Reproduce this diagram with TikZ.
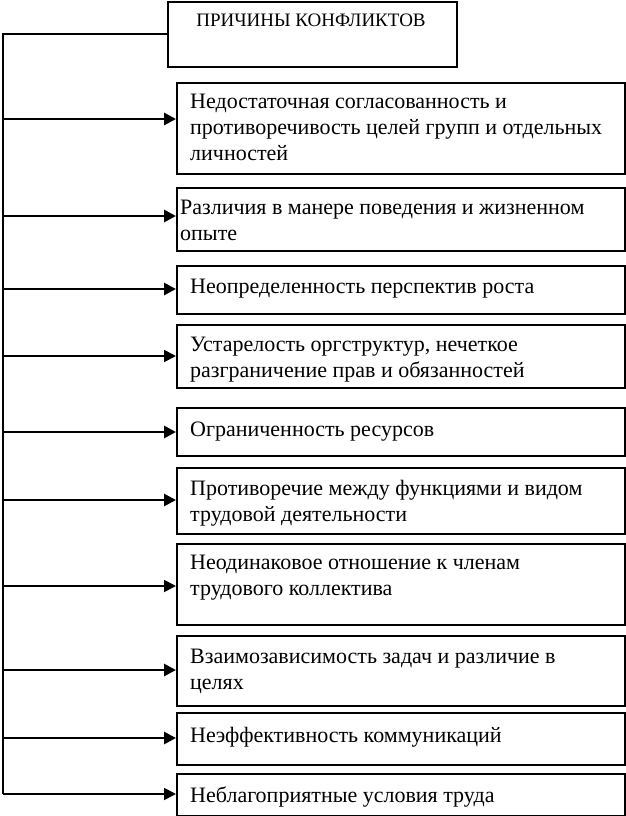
\documentclass[tikz,border=0pt]{standalone}
\usepackage{fontspec}
\setmainfont{Liberation Serif}
\usetikzlibrary{arrows.meta}
\begin{document}
\begin{tikzpicture}[x=1pt,y=-1pt,
  box/.style={draw, line width=2pt, rectangle, inner sep=0pt, anchor=north west, minimum width=448pt},
  txt/.style={anchor=north west, inner sep=0pt, align=left, font=\fontsize{22}{25.8}\selectfont},
  arr/.style={line width=2.8pt, -{Triangle[length=12pt,width=12pt]}},
  arrthin/.style={line width=1.8pt, -{Triangle[length=12pt,width=12pt]}},
  trunk/.style={line width=2.2pt}]
\useasboundingbox (0,0) rectangle (626,816);
% top box
\node[draw, line width=2pt, rectangle, inner sep=0pt, anchor=north west, minimum width=289pt, minimum height=65pt] (top) at (167,1) {};
\node[anchor=base, inner sep=0pt, font=\fontsize{19}{22}\selectfont] (title) at (311,27) {ПРИЧИНЫ КОНФЛИКТОВ};
% cause boxes
\node[box, minimum height=91pt] (b1) at (176,82) {};
\node[txt] (t1) at (190,94) {Недостаточная согласованность и\\противоречивость целей групп и отдельных\\личностей};
\node[box, minimum height=63pt] (b2) at (176,187) {};
\node[txt] (t2) at (180,200) {Различия в манере поведения и жизненном\\опыте};
\node[box, minimum height=48pt] (b3) at (176,265) {};
\node[txt] (t3) at (190,279) {Неопределенность перспектив роста};
\node[box, minimum height=63pt] (b4) at (176,324) {};
\node[txt] (t4) at (190,337) {Устарелость оргструктур, нечеткое\\разграничение прав и обязанностей};
\node[box, minimum height=48pt] (b5) at (176,407) {};
\node[txt] (t5) at (190,422) {Ограниченность ресурсов};
\node[box, minimum height=66pt] (b6) at (176,467) {};
\node[txt] (t6) at (190,480) {Противоречие между функциями и видом\\трудовой деятельности};
\node[box, minimum height=81pt] (b7) at (176,543) {};
\node[txt] (t7) at (190,555) {Неодинаковое отношение к членам\\трудового коллектива};
\node[box, minimum height=70pt] (b8) at (176,635) {};
\node[txt] (t8) at (190,649) {Взаимозависимость задач и различие в\\целях};
\node[box, minimum height=52pt] (b9) at (176,712) {};
\node[txt] (t9) at (190,727) {Неэффективность коммуникаций};
\node[box, minimum height=42pt] (b10) at (176,773) {};
\node[txt] (t10) at (190,787) {Неблагоприятные условия труда};
% trunk
\coordinate (c0) at (3,34);
\coordinate (c1) at (3,119);
\coordinate (c2) at (3,216);
\coordinate (c3) at (3,289);
\coordinate (c4) at (3,356);
\coordinate (c5) at (3,432);
\coordinate (c6) at (3,500);
\coordinate (c7) at (3,586);
\coordinate (c8) at (3,670);
\coordinate (c9) at (3,738);
\coordinate (c10) at (3,794);
\draw[trunk] (top.west |- c0) -- (c0) -- (c10);
\draw[arr] (c1) -- (b1.west |- c1);
\draw[arr] (c2) -- (b2.west |- c2);
\draw[arr] (c3) -- (b3.west |- c3);
\draw[arrthin] (c4) -- (b4.west |- c4);
\draw[arr] (c5) -- (b5.west |- c5);
\draw[arr] (c6) -- (b6.west |- c6);
\draw[arrthin] (c7) -- (b7.west |- c7);
\draw[arr] (c8) -- (b8.west |- c8);
\draw[arr] (c9) -- (b9.west |- c9);
\draw[arrthin] (c10) -- (b10.west |- c10);
\end{tikzpicture}
\end{document}
